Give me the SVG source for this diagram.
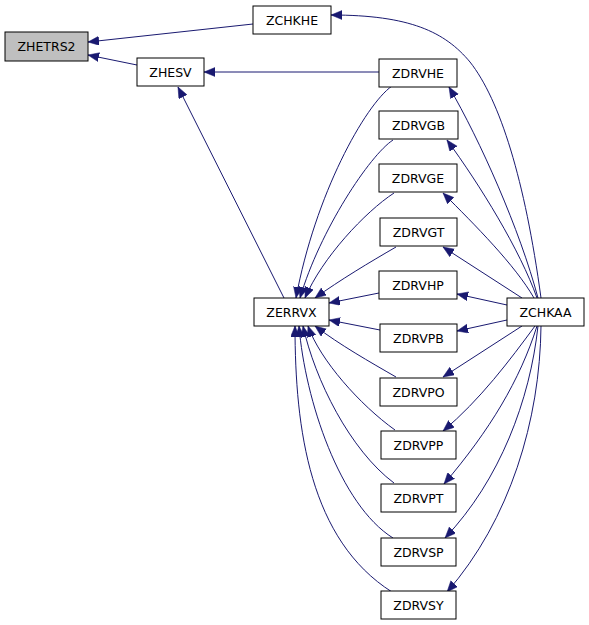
<svg xmlns="http://www.w3.org/2000/svg" width="589" height="625" viewBox="0 0 589 625">
<defs>
<marker id="ah" markerUnits="userSpaceOnUse" markerWidth="12" markerHeight="10" refX="11" refY="4.5" orient="auto">
<path d="M0,0 L11,4.5 L0,9 z" fill="#191970" stroke="#191970" stroke-width="0.5"/>
</marker>
<style>
.n rect{fill:#ffffff;stroke:#000000;stroke-width:1}
.n text{font-family:"DejaVu Sans",sans-serif;font-size:12.5px;text-anchor:middle;fill:#000000}
#e path{fill:none;stroke:#191970;stroke-width:1;marker-end:url(#ah)}
</style>
</defs>
<rect width="589" height="625" fill="#ffffff"/>
<g id="e">
<path d="M253,24 L88,42"/>
<path d="M137,65 L88,55"/>
<path d="M379,72 L204,72"/>
<path d="M284,298 L178,87"/>
<path d="M541,298 C525,180 500,100 470,62 C445,32 410,15 331,15"/>
<path d="M538,298 C520,230 480,140 449,87"/>
<path d="M537,298 C520,250 480,185 447,140"/>
<path d="M534,298 C515,265 475,225 443,193"/>
<path d="M522,298 L443,247"/>
<path d="M507,305 L457,294"/>
<path d="M507,320 L457,331"/>
<path d="M522,326 L443,377"/>
<path d="M535,326 C510,360 480,400 443,431"/>
<path d="M537,326 C520,380 490,430 444,484"/>
<path d="M538,326 C530,400 500,480 445,538"/>
<path d="M541,326 C540,420 510,520 447,592"/>
<path d="M392,86 C365,105 315,195 296,298"/>
<path d="M393,140 C370,155 320,230 300,298"/>
<path d="M394,193 C365,212 322,258 305,298"/>
<path d="M396,247 C370,262 340,280 315,298"/>
<path d="M379,293 L329,303"/>
<path d="M380,330 L329,320"/>
<path d="M396,377 C370,362 340,345 315,326"/>
<path d="M395,430 C360,405 320,360 308,326"/>
<path d="M394,483 C350,450 315,380 303,326"/>
<path d="M393,538 C340,505 305,400 299,326"/>
<path d="M392,592 C310,540 295,430 295,326"/>
</g>
<g id="ZHETRS2" class="n"><rect x="5" y="32" width="83" height="29" style="fill:#bfbfbf"/><text x="46.5" y="51">ZHETRS2</text></g>
<g id="ZCHKHE" class="n"><rect x="253" y="6" width="78" height="28"/><text x="292" y="24.5">ZCHKHE</text></g>
<g id="ZHESV" class="n"><rect x="137" y="58" width="67" height="28"/><text x="170.5" y="76.5">ZHESV</text></g>
<g id="ZDRVHE" class="n"><rect x="379" y="59" width="78" height="28"/><text x="418" y="77.5">ZDRVHE</text></g>
<g id="ZDRVGB" class="n"><rect x="379" y="111" width="79" height="28"/><text x="418.5" y="129.5">ZDRVGB</text></g>
<g id="ZDRVGE" class="n"><rect x="379" y="164" width="78" height="28"/><text x="418" y="182.5">ZDRVGE</text></g>
<g id="ZDRVGT" class="n"><rect x="380" y="218" width="77" height="28"/><text x="418.5" y="236.5">ZDRVGT</text></g>
<g id="ZDRVHP" class="n"><rect x="379" y="271" width="78" height="28"/><text x="418" y="289.5">ZDRVHP</text></g>
<g id="ZERRVX" class="n"><rect x="254" y="298" width="75" height="28"/><text x="291.5" y="316.5">ZERRVX</text></g>
<g id="ZCHKAA" class="n"><rect x="507" y="298" width="77" height="28"/><text x="545.5" y="316.5">ZCHKAA</text></g>
<g id="ZDRVPB" class="n"><rect x="380" y="324" width="77" height="28"/><text x="418.5" y="342.5">ZDRVPB</text></g>
<g id="ZDRVPO" class="n"><rect x="380" y="378" width="77" height="28"/><text x="418.5" y="396.5">ZDRVPO</text></g>
<g id="ZDRVPP" class="n"><rect x="381" y="431" width="75" height="28"/><text x="418.5" y="449.5">ZDRVPP</text></g>
<g id="ZDRVPT" class="n"><rect x="381" y="484" width="75" height="28"/><text x="418.5" y="502.5">ZDRVPT</text></g>
<g id="ZDRVSP" class="n"><rect x="381" y="538" width="75" height="28"/><text x="418.5" y="556.5">ZDRVSP</text></g>
<g id="ZDRVSY" class="n"><rect x="381" y="591" width="75" height="28"/><text x="418.5" y="609.5">ZDRVSY</text></g>
</svg>
